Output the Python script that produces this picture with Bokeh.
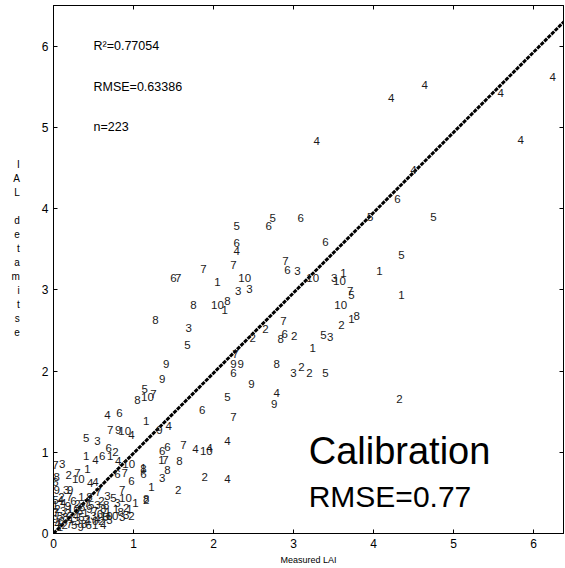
from bokeh.plotting import figure
from bokeh.models import Range1d, FixedTicker, LinearAxis, Label, ColumnDataSource, CustomJSTickFormatter
from bokeh.core.properties import value
from bokeh.embed import file_html
from bokeh.resources import INLINE

FONT = "Liberation Sans"

# ---- data: group labels and (measured, estimated) LAI ----
labels = [
    "4", "4", "4", "4", "4", "4", "4", "6", "5", "5",
    "6", "5", "6", "5", "6", "4", "6", "5", "7", "7",
    "7", "6", "3", "10", "1", "10", "3", "1", "10", "1",
    "6", "7", "3", "3", "7", "5", "1", "8", "10", "8",
    "1", "10", "1", "8", "2", "8", "3", "7", "2", "2",
    "6", "8", "2", "5", "3", "5", "1", "7", "9", "9",
    "6", "8", "3", "2", "2", "5", "9", "9", "9", "4",
    "9", "5", "2", "6", "7", "5", "7", "10", "8", "4",
    "6", "1", "9", "4", "7", "9", "10", "4", "5", "3",
    "6", "2", "1", "4", "6", "1", "4", "10", "1", "6",
    "6", "7", "4", "10", "4", "4", "1", "7", "8", "8",
    "3", "2", "4", "1", "2", "8", "1", "6", "7", "6",
    "7", "3", "2", "7", "10", "8", "6", "9", "3", "9",
    "4", "4", "6", "7", "3", "5", "7", "10", "8", "3",
    "1", "8", "2", "3", "2", "2", "10", "5", "4",
    "1", "2", "7", "5", "3", "8", "6", "4", "9", "2",
    "1", "10", "4", "7", "3", "6", "5", "8", "1", "2",
    "9", "10", "3", "7", "4", "6", "2", "8", "5", "1",
    "3", "10", "4", "9", "6", "2", "8", "7", "5", "3",
    "1", "2", "5", "9", "6", "1", "4", "2", "7", "1",
    "8", "2", "1", "8", "3", "1",
]
measured = [
    4.22, 4.64, 3.29, 6.24, 5.59, 5.84, 4.50, 4.30, 3.96, 4.75,
    3.09, 2.74, 2.69, 2.29, 2.29, 2.29, 3.40, 4.35, 1.875, 2.25,
    2.90, 2.925, 3.05, 2.39, 2.05, 3.24, 3.51, 3.625, 3.575, 4.075,
    1.50, 1.56, 2.31, 2.45, 3.71, 3.725, 4.35, 1.75, 2.05, 2.175,
    2.14, 3.59, 3.725, 3.79, 3.60, 1.275, 1.69, 2.875, 2.65, 2.49,
    2.89, 2.84, 3.01, 3.375, 3.46, 1.675, 3.24, 2.275, 2.25, 2.34,
    2.25, 2.79, 3.00, 3.10, 3.20, 3.40, 1.41, 1.36, 2.475, 2.79,
    2.76, 2.175, 4.325, 1.86, 2.25, 1.14, 1.25, 1.175, 1.05, 0.675,
    0.825, 1.16, 1.325, 1.44, 0.71, 0.81, 0.89, 0.975, 0.41, 0.55,
    0.69, 0.775, 0.41, 0.525, 0.61, 0.71, 0.81, 0.94, 0.425, 1.425,
    1.36, 1.625, 1.775, 1.91, 1.95, 2.175, 1.35, 1.40, 1.575, 1.425,
    1.36, 1.89, 2.175, 1.225, 1.56, 1.125, 1.125, 1.125, 0.89, 0.975,
    0.025, 0.11, 0.19, 0.30, 0.31, 0.04, 0.025, 0.04, 0.16, 0.21,
    0.46, 0.525, 0.80, 0.56, 0.675, 0.75, 0.86, 0.90, 0.66, 0.80,
    1.025, 1.16, 1.16, 0.91, 0.975, 0.91, 0.66, 0.025, 0.09,
    0.02, 0.05, 0.03, 0.08, 0.12, 0.15, 0.10, 0.05, 0.02, 0.18,
    0.22, 0.25, 0.28, 0.20, 0.30, 0.33, 0.35, 0.38, 0.40, 0.42,
    0.45, 0.48, 0.50, 0.52, 0.55, 0.58, 0.60, 0.62, 0.65, 0.68,
    0.70, 0.73, 0.12, 0.18, 0.25, 0.30, 0.36, 0.42, 0.47, 0.55,
    0.08, 0.14, 0.26, 0.34, 0.44, 0.52, 0.62, 0.10, 0.20, 0.35,
    0.45, 0.60, 0.78, 0.84, 0.86, 0.95,
]
estimated = [
    5.36, 5.52, 4.83, 5.62, 5.42, 4.85, 4.48, 4.12, 3.90, 3.90,
    3.88, 3.88, 3.79, 3.79, 3.58, 3.48, 3.59, 3.43, 3.26, 3.30,
    3.36, 3.25, 3.23, 3.14, 3.09, 3.14, 3.15, 3.21, 3.11, 3.23,
    3.14, 3.14, 2.99, 3.01, 2.98, 2.93, 2.93, 2.81, 2.81, 2.86,
    2.75, 2.81, 2.64, 2.68, 2.57, 2.63, 2.53, 2.62, 2.52, 2.41,
    2.46, 2.40, 2.43, 2.44, 2.42, 2.32, 2.28, 2.21, 2.09, 2.09,
    1.98, 2.09, 1.98, 2.05, 1.98, 1.98, 2.09, 1.90, 1.84, 1.73,
    1.60, 1.68, 1.65, 1.52, 1.43, 1.78, 1.72, 1.68, 1.64, 1.46,
    1.48, 1.38, 1.28, 1.32, 1.27, 1.27, 1.26, 1.21, 1.17, 1.14,
    1.05, 1.00, 0.96, 0.91, 0.96, 0.95, 0.89, 0.86, 0.80, 1.07,
    1.02, 1.09, 1.04, 1.01, 1.05, 1.14, 0.91, 0.91, 0.89, 0.78,
    0.68, 0.69, 0.67, 0.57, 0.53, 0.80, 0.81, 0.73, 0.75, 0.65,
    0.84, 0.85, 0.72, 0.74, 0.67, 0.69, 0.64, 0.54, 0.54, 0.54,
    0.62, 0.64, 0.73, 0.51, 0.46, 0.44, 0.53, 0.44, 0.35, 0.38,
    0.38, 0.43, 0.41, 0.23, 0.21, 0.31, 0.22, 0.41, 0.41,
    0.35, 0.30, 0.25, 0.22, 0.28, 0.20, 0.15, 0.12, 0.18, 0.25,
    0.18, 0.30, 0.22, 0.12, 0.15, 0.28, 0.20, 0.12, 0.25, 0.18,
    0.30, 0.15, 0.22, 0.28, 0.18, 0.24, 0.15, 0.30, 0.20, 0.26,
    0.17, 0.22, 0.38, 0.34, 0.40, 0.36, 0.33, 0.38, 0.35, 0.35,
    0.08, 0.10, 0.10, 0.08, 0.10, 0.10, 0.10, 0.45, 0.45, 0.45,
    0.45, 0.40, 0.30, 0.27, 0.20, 0.30,
]

fit_x = [0.0, 6.4]
fit_y = [0.0, 6.32]

x_ticks = [0, 1, 2, 3, 4, 5, 6]
y_ticks = [0, 1, 2, 3, 4, 5, 6]

stats_text = ["R\u00b2=0.77054", "RMSE=0.63386", "n=223"]
stats_y = [6.0, 5.5, 5.0]
ylabel_letters = ["I", "A", "L", "", "d", "e", "t", "a", "m", "i", "t", "s", "e"]

# ---- figure ----
p = figure(width=565, height=568, x_range=Range1d(0, 6.375), y_range=Range1d(0, 6.5),
           output_backend="svg", toolbar_location=None,
           min_border_left=53, min_border_right=2, min_border_top=5, min_border_bottom=35)
p.outline_line_color = "black"
p.outline_line_width = 1
p.xgrid.grid_line_color = None
p.ygrid.grid_line_color = None
p.background_fill_color = "white"
p.border_fill_color = "white"

for ax, ticks in ((p.xaxis[0], x_ticks), (p.yaxis[0], y_ticks)):
    ax.ticker = FixedTicker(ticks=ticks)
    ax.major_tick_in = 4
    ax.major_tick_out = 0
    ax.minor_tick_line_color = None
    ax.axis_line_color = "black"
    ax.major_tick_line_color = "black"
    ax.major_label_text_font = FONT
    ax.major_label_text_font_size = "12px"
    ax.major_label_text_color = "black"
    ax.major_label_standoff = 5

p.xaxis.axis_label = "Measured LAI"
p.xaxis.axis_label_text_font = FONT
p.xaxis.axis_label_text_font_size = "9px"
p.xaxis.axis_label_text_font_style = "normal"
p.xaxis.axis_label_text_color = "black"
p.xaxis.axis_label_standoff = 4

# stacked-letter y label (padded below so it sits above the frame centre)
p.yaxis.axis_label = "\n".join(ylabel_letters + ["", "", ""])
p.yaxis.axis_label_orientation = "horizontal"
p.yaxis.axis_label_text_font = FONT
p.yaxis.axis_label_text_font_size = "10px"
p.yaxis.axis_label_text_font_style = "normal"
p.yaxis.axis_label_text_color = "black"
p.yaxis.axis_label_text_line_height = 1.27
p.yaxis.axis_label_text_align = "center"
p.yaxis.axis_label_standoff = 19

for loc, ticks in (("above", x_ticks), ("right", y_ticks)):
    ax = LinearAxis(ticker=FixedTicker(ticks=ticks),
                    formatter=CustomJSTickFormatter(code="return ''"))
    ax.major_tick_in = 4
    ax.major_tick_out = 0
    ax.minor_tick_line_color = None
    ax.major_label_text_font_size = "1px"
    ax.major_label_standoff = 0
    ax.axis_line_color = "black"
    p.add_layout(ax, loc)

# fit line
p.line(fit_x, fit_y, line_color="black", line_width=3, line_dash="4 1")

# points as group numbers
src = ColumnDataSource(dict(x=measured, y=estimated, t=labels))
p.text(x="x", y="y", text="t", source=src, text_align="center", text_baseline="middle",
       text_font=value(FONT), text_font_size="11.5px", text_color="#1a1a1a")

# statistics
for txt, yy in zip(stats_text, stats_y):
    p.add_layout(Label(x=0.5, y=yy, text=txt, text_font=FONT, text_font_size="12.5px",
                       text_baseline="middle", text_color="black"))

p.add_layout(Label(x=3.19, y=1.01, text="Calibration", text_font=FONT,
                   text_font_size="38px", text_baseline="middle", text_color="black"))
p.add_layout(Label(x=3.19, y=0.46, text="RMSE=0.77", text_font=FONT,
                   text_font_size="30px", text_baseline="middle", text_color="black"))

open("out.html", "w").write(file_html(p, INLINE))
